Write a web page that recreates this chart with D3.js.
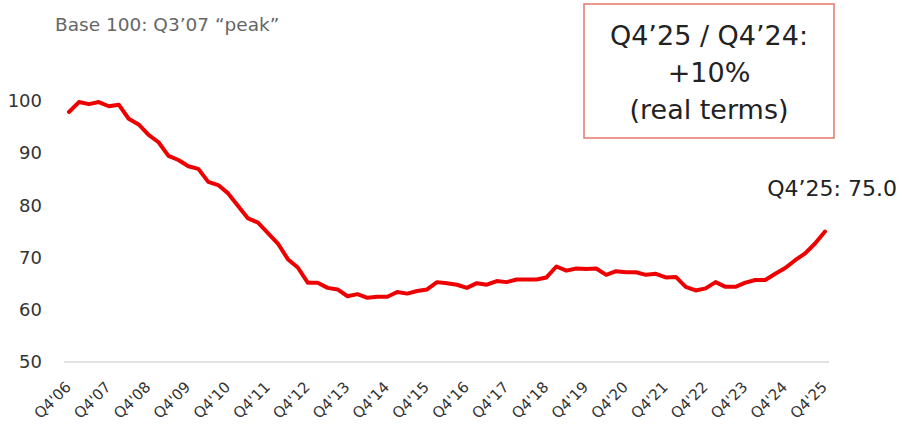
<!DOCTYPE html>
<html>
<head>
<meta charset="utf-8">
<script src="https://cdn.jsdelivr.net/npm/d3@7"></script>
<style>
body { margin: 0; background: #fff; }
svg { display: block; font-family: "DejaVu Sans", "Noto Sans", sans-serif; }
</style>
</head>
<body>
<script>
// quarterly index, Q4'06 .. Q4'25 (base 100 = Q3'07)
var values = [
  97.9, 99.8, 99.4, 99.8, 99.0, 99.3, 96.6, 95.5, 93.5, 92.1,
  89.5, 88.7, 87.5, 87.0, 84.5, 83.9, 82.3, 79.9, 77.5, 76.7,
  74.7, 72.7, 69.7, 68.1, 65.2, 65.2, 64.2, 63.9, 62.6, 63.0,
  62.3, 62.5, 62.5, 63.4, 63.1, 63.6, 63.9, 65.3, 65.1, 64.8,
  64.2, 65.1, 64.8, 65.5, 65.3, 65.8, 65.8, 65.8, 66.2, 68.3,
  67.5, 67.9, 67.8, 67.9, 66.7, 67.4, 67.2, 67.2, 66.7, 66.9,
  66.2, 66.3, 64.4, 63.7, 64.1, 65.3, 64.4, 64.4, 65.2, 65.7,
  65.7, 66.9, 68.0, 69.5, 70.8, 72.7, 75.0
];
var yearLabels = ["Q4'06","Q4'07","Q4'08","Q4'09","Q4'10","Q4'11","Q4'12","Q4'13","Q4'14","Q4'15",
  "Q4'16","Q4'17","Q4'18","Q4'19","Q4'20","Q4'21","Q4'22","Q4'23","Q4'24","Q4'25"];
var yTicks = [50, 60, 70, 80, 90, 100];
var subtitle = "Base 100: Q3\u201907 \u201cpeak\u201d";
var boxLines = ["Q4\u201925 / Q4\u201924:", "+10%", "(real terms)"];
var endLabel = "Q4\u201925: 75.0";

var width = 904, height = 426;
var svg = d3.select("body").append("svg")
  .attr("width", width)
  .attr("height", height);

var x = d3.scaleLinear().domain([0, values.length - 1]).range([69, 825]);
var y = d3.scaleLinear().domain([50, 100]).range([362, 101]);

// baseline grid
svg.append("line")
  .attr("x1", 64).attr("x2", 829)
  .attr("y1", y(50)).attr("y2", y(50))
  .attr("stroke", "#d9d9d9").attr("stroke-width", 1.3);

var yAxis = svg.append("g")
  .attr("transform", "translate(42,0)")
  .call(d3.axisLeft(y).tickValues(yTicks).tickSize(0).tickPadding(0));
yAxis.select(".domain").remove();
yAxis.selectAll("text")
  .attr("font-size", "18px")
  .attr("fill", "#333")
  .style("font-family", "'DejaVu Sans', sans-serif");

// x labels, one per Q4
svg.append("g").selectAll("text")
  .data(yearLabels)
  .enter()
  .append("text")
  .attr("transform", function(d, i) { return "translate(" + (x(i * 4) + 3) + ",388) rotate(-45)"; })
  .attr("text-anchor", "end")
  .attr("font-size", "15px")
  .attr("fill", "#333")
  .text(function(d) { return d; });

var line = d3.line()
  .x(function(d, i) { return x(i); })
  .y(function(d) { return y(d); });

svg.append("path")
  .datum(values)
  .attr("d", line)
  .attr("fill", "none")
  .attr("stroke", "#ee0000")
  .attr("stroke-width", 4)
  .attr("stroke-linejoin", "round")
  .attr("stroke-linecap", "round");

svg.append("text")
  .attr("x", 55).attr("y", 31)
  .attr("font-size", "18.5px")
  .attr("fill", "#666")
  .text(subtitle);

// callout box
svg.append("rect")
  .attr("x", 584).attr("y", 4)
  .attr("width", 250).attr("height", 134)
  .attr("fill", "#fff")
  .attr("stroke", "#e8776a")
  .attr("stroke-width", 1.5);

svg.append("g").selectAll("text")
  .data(boxLines)
  .enter()
  .append("text")
  .attr("x", 709)
  .attr("y", function(d, i) { return 45 + i * 37; })
  .attr("text-anchor", "middle")
  .attr("font-size", "27px")
  .attr("fill", "#222")
  .text(function(d) { return d; });

svg.append("text")
  .attr("x", 897).attr("y", 196)
  .attr("text-anchor", "end")
  .attr("font-size", "22px")
  .attr("fill", "#222")
  .text(endLabel);
</script>
</body>
</html>
